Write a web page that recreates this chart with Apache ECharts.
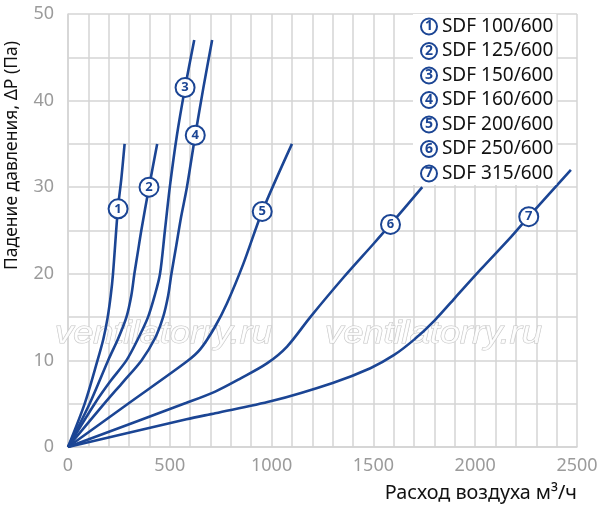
<!DOCTYPE html>
<html>
<head>
<meta charset="utf-8">
<script src="https://cdn.jsdelivr.net/npm/echarts@6/dist/echarts.min.js"></script>
<style>
  html, body { margin: 0; padding: 0; background: #fff; }
  #chart1 { width: 597px; height: 510px; }
</style>
</head>
<body>
<div id="chart1"></div>
<script>
// curve names (legend)
var names = ['SDF 100/600', 'SDF 125/600', 'SDF 150/600', 'SDF 160/600', 'SDF 200/600', 'SDF 250/600', 'SDF 315/600'];

// points: [air flow m3/h, pressure drop Pa]
var sdf100 = [[0, 0], [82, 5], [145, 10], [174, 12.5], [195, 15], [210, 17.5], [221, 20], [245, 27.5], [262, 31], [278, 35]];
var sdf125 = [[0, 0], [106, 5], [197, 10], [246, 12.5], [287, 15], [311, 17.5], [326, 20], [343, 22.5], [360, 25], [398, 30], [438, 35]];
var sdf150 = [[0, 0], [131, 5], [205, 7.5], [287, 10], [344, 12.5], [393, 15], [426, 17.5], [452, 20], [476, 25], [500, 30], [535, 36], [575, 41.5], [620, 47]];
var sdf160 = [[0, 0], [178, 5], [270, 7.5], [361, 10], [426, 12.5], [467, 15], [492, 17.5], [508, 20], [530, 23], [555, 26.5], [584, 30], [625, 36], [665, 41.5], [708, 47]];
var sdf200 = [[0, 0], [295, 5], [585, 9.9], [650, 11.3], [720, 13.8], [781, 16.6], [862, 21.2], [954, 27.2], [1100, 35]];
var sdf250 = [[0, 0], [582, 5.1], [723, 6.4], [846, 7.9], [977, 9.65], [1076, 11.6], [1190, 15], [1354, 19.6], [1502, 23.5], [1584, 25.7], [1740, 30]];
var sdf315 = [[0, 0], [582, 3.2], [723, 3.9], [1000, 5.3], [1300, 7.4], [1485, 9.1], [1600, 10.6], [1700, 12.4], [1800, 14.6], [1900, 17.2], [2027, 20.5], [2174, 24.2], [2263, 26.6], [2470, 32]];

// where the circled numbers sit on each curve
var markers = [[246, 27.5], [398, 30], [575, 41.5], [625, 36], [954, 27.2], [1584, 25.7], [2263, 26.6]];

var curves = [sdf100, sdf125, sdf150, sdf160, sdf200, sdf250, sdf315];
var blue = '#1b4594';

var chartDom = document.getElementById('chart1');
var myChart = echarts.init(chartDom);

var series = [];
curves.forEach(function (pts, i) {
  series.push({
    name: names[i],
    type: 'line',
    data: pts,
    smooth: 0.3,
    showSymbol: false,
    lineStyle: { color: blue, width: 2.6 },
    itemStyle: { color: blue },
    z: 3
  });
});
series.push({
  type: 'scatter',
  data: markers.map(function (m, i) { return { value: m, num: i + 1 }; }),
  symbol: 'circle',
  symbolSize: 19,
  itemStyle: { color: '#fff', borderColor: blue, borderWidth: 2, opacity: 1 },
  label: {
    show: true,
    position: 'inside',
    formatter: function (p) { return String(p.data.num); },
    color: blue,
    fontSize: 13,
    fontWeight: 'bold',
    fontFamily: 'Noto Sans'
  },
  silent: true,
  z: 5
});

function watermark(x) {
  return {
    type: 'text', x: x, y: 319, scaleX: 1.17, z: 1,
    style: {
      text: 'ventilatorry.ru', fontSize: 31, fontStyle: 'italic',
      fontFamily: 'Liberation Sans', fill: 'rgba(255,255,255,0.85)',
      stroke: '#c4c4c4', lineWidth: 1
    }
  };
}

var option = {
  animation: false,
  textStyle: { fontFamily: 'Noto Sans' },
  grid: { left: 68, right: 20, top: 14, bottom: 63, outerBoundsMode: 'none' },
  legend: {
    orient: 'vertical',
    left: 413,
    top: 14,
    padding: [2, 3, 2, 3],
    backgroundColor: '#fff',
    icon: 'none',
    itemWidth: 0,
    itemHeight: 21,
    itemGap: 4.5,
    data: names,
    formatter: function (name) {
      return '{n|' + (names.indexOf(name) + 1) + '} ' + name;
    },
    textStyle: {
      color: '#111',
      fontSize: 19,
      fontFamily: 'Noto Sans',
      rich: {
        n: {
          width: 16, height: 16, lineHeight: 16,
          align: 'center',
          borderColor: blue, borderWidth: 2, borderRadius: 10,
          color: blue, fontSize: 14, fontWeight: 'bold',
          fontFamily: 'Noto Sans'
        }
      }
    },
    z: 6
  },
  xAxis: {
    type: 'value',
    min: 0,
    max: 2500,
    interval: 100,
    name: 'Расход воздуха м³/ч',
    nameLocation: 'end',
    nameGap: 0,
    nameTextStyle: { color: '#111', fontSize: 19.8, align: 'right', verticalAlign: 'top', padding: [36, 0, 0, 0] },
    axisLine: { show: true, lineStyle: { color: '#d4d4d4', width: 1.5 } },
    axisTick: { show: false },
    axisLabel: {
      color: '#9b9b9b', fontSize: 18, margin: 10,
      formatter: function (v) { return v % 500 === 0 ? v : ''; }
    },
    splitLine: { show: true, lineStyle: { color: '#d4d4d4', width: 1.5 } }
  },
  yAxis: {
    type: 'value',
    min: 0,
    max: 50,
    interval: 5,
    name: 'Падение давления, ΔP (Па)',
    nameLocation: 'middle',
    nameRotate: 90,
    nameGap: 47,
    nameTextStyle: { color: '#111', fontSize: 17.5, padding: [0, 0, 0, 150] },
    axisLine: { show: true, lineStyle: { color: '#d4d4d4', width: 1.5 } },
    axisTick: { show: false },
    axisLabel: {
      color: '#9b9b9b', fontSize: 18, margin: 14,
      formatter: function (v) { return v % 10 === 0 ? v : ''; }
    },
    splitLine: { show: true, lineStyle: { color: '#d4d4d4', width: 1.5 } }
  },
  graphic: [watermark(55), watermark(325)],
  series: series
};

option && myChart.setOption(option);
window.onresize = function () {
  myChart.resize();
};
</script>
</body>
</html>
